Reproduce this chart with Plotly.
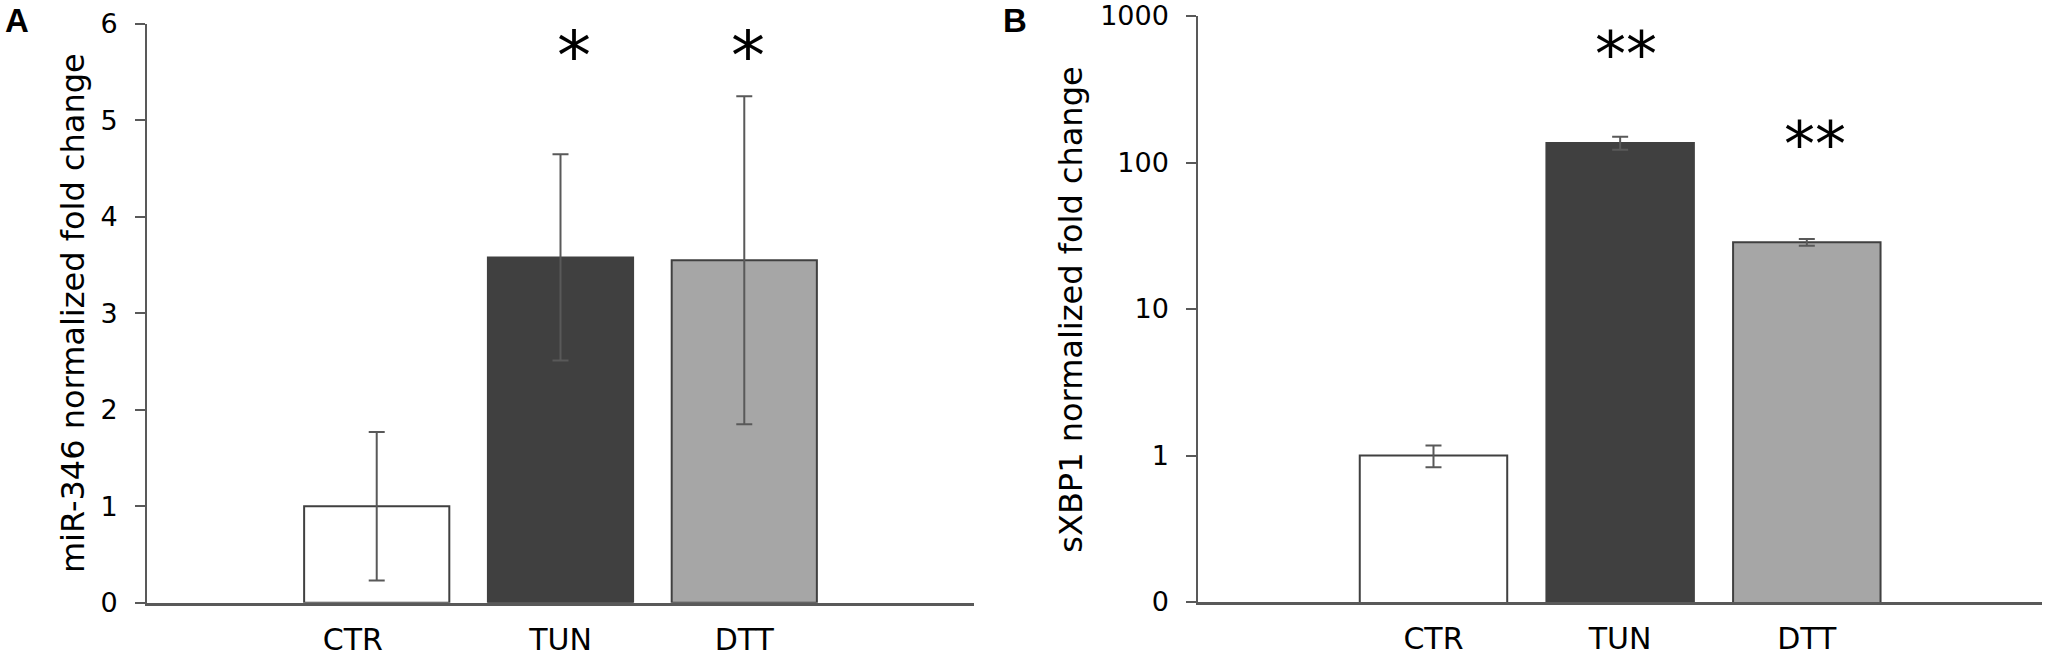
import plotly.graph_objects as go

W, H = 2047, 659

# ---- data ----
categories = ["CTR", "TUN", "DTT"]
x_ticktext_a = ["CTR\u00a0\u00a0\u00a0\u00a0\u00a0", "TUN", "DTT"]
x_ticktext_b = ["CTR", "TUN", "DTT"]
mir346_values = [1.0, 3.58, 3.55]
mir346_errors = [0.77, 1.07, 1.70]
sxbp1_values = [1.0, 136.0, 28.5]
sxbp1_errors = [0.17, 14.0, 1.5]
bar_colors = ["#ffffff", "#404040", "#a6a6a6"]
signif_a = ["", "*", "*"]
signif_b = ["", "**", "**"]
y_ticks_a = [0, 1, 2, 3, 4, 5, 6]
y_ticks_b = [0.1, 1, 10, 100, 1000]
y_ticklabels_b = ["0", "1", "10", "100", "1000"]
title_a = "miR-346 normalized fold change"
title_b = "sXBP1 normalized fold change"

FONT = "DejaVu Sans"
AX = "#595959"


def px(x):
    return x / W


def py(y):
    return 1 - y / H


fig = go.Figure()
fig.add_trace(go.Bar(
    x=categories, y=mir346_values, xaxis="x", yaxis="y",
    marker=dict(color=bar_colors, line=dict(color="#404040", width=2)),
    width=0.79,
    error_y=dict(type="data", array=mir346_errors, color=AX, thickness=2, width=8),
    showlegend=False, hoverinfo="skip",
))
fig.add_trace(go.Bar(
    x=categories, y=sxbp1_values, xaxis="x2", yaxis="y2",
    marker=dict(color=bar_colors, line=dict(color="#404040", width=2)),
    width=0.79,
    error_y=dict(type="data", array=sxbp1_errors, color=AX, thickness=2, width=8),
    showlegend=False, hoverinfo="skip",
))

common_x = dict(type="category", showline=True, linecolor=AX, linewidth=3, ticks="",
                showgrid=False, zeroline=False, automargin=False,
                tickfont=dict(family=FONT, size=30, color="black"), ticklabelstandoff=8)
common_y = dict(showline=True, linecolor=AX, linewidth=2, ticks="outside", ticklen=10,
                tickwidth=2, tickcolor=AX, showgrid=False, zeroline=False, automargin=False,
                tickfont=dict(family=FONT, size=27, color="black"), ticklabelstandoff=12)

fig.update_layout(
    width=W, height=H,
    margin=dict(l=0, r=0, t=0, b=0, autoexpand=False),
    paper_bgcolor="white", plot_bgcolor="white",
    xaxis=dict(domain=[px(147), px(974)], range=[-1.25, 3.25], anchor="y",
               tickvals=categories, ticktext=x_ticktext_a, **common_x),
    yaxis=dict(domain=[py(602.7), py(24)], range=[0, 6], anchor="x",
               tickvals=y_ticks_a, **common_y),
    xaxis2=dict(domain=[px(1198.3), px(2042)], range=[-1.26, 3.26], anchor="y2",
                tickvals=categories, ticktext=x_ticktext_b, **common_x),
    yaxis2=dict(domain=[py(602), py(16)], type="log", range=[-1, 3], anchor="x2",
                tickvals=y_ticks_b, ticktext=y_ticklabels_b, **common_y),
)

ann = []
# axis titles
ann.append(dict(text=title_a, x=px(72.6), y=py(313.5), xref="paper", yref="paper",
                textangle=-90, showarrow=False, xanchor="center", yanchor="middle",
                font=dict(family=FONT, size=32, color="black")))
ann.append(dict(text=title_b, x=px(1071), y=py(309.7), xref="paper", yref="paper",
                textangle=-90, showarrow=False, xanchor="center", yanchor="middle",
                font=dict(family=FONT, size=32, color="black")))
# panel letters
ann.append(dict(text="<b>A</b>", x=px(17), y=py(1), xref="paper", yref="paper",
                showarrow=False, xanchor="center", yanchor="top", borderpad=0,
                font=dict(family="Liberation Sans", size=33, color="black")))
ann.append(dict(text="<b>B</b>", x=px(1014.5), y=py(1), xref="paper", yref="paper",
                showarrow=False, xanchor="center", yanchor="top", borderpad=0,
                font=dict(family="Liberation Sans", size=33, color="black")))
# significance marks
sig_a_y = [0, 55, 55]
sig_a_shift = [0, 13, 4]
for c, s, yy, sh in zip(categories, signif_a, sig_a_y, sig_a_shift):
    if s:
        ann.append(dict(text=s, x=c, y=py(yy), xref="x", yref="paper", xshift=sh,
                        showarrow=False, xanchor="center", yanchor="middle",
                        font=dict(family=FONT, size=68, color="black")))
sig_b_y = [0, 54, 145]
sig_b_shift = [0, 6, 8]
for c, s, yy, sh in zip(categories, signif_b, sig_b_y, sig_b_shift):
    if s:
        ann.append(dict(text=s, x=c, y=py(yy), xref="x2", yref="paper", xshift=sh,
                        showarrow=False, xanchor="center", yanchor="middle",
                        font=dict(family=FONT, size=62, color="black")))
fig.update_layout(annotations=ann)

fig.write_html(
    "out.html",
    config={"displayModeBar": False},
    post_script="document.body.style.margin='0px';document.body.style.overflow='hidden';",
)
